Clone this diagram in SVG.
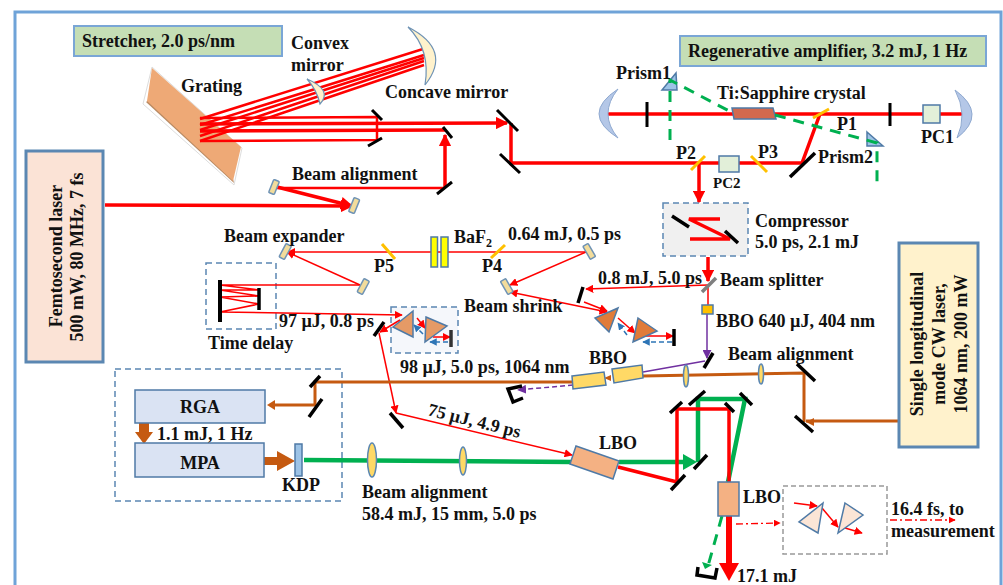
<svg xmlns="http://www.w3.org/2000/svg" width="1003" height="585" viewBox="0 0 1003 585">
<style>
text{font-family:"Liberation Serif","Times New Roman",serif;font-weight:bold;font-size:18px;fill:#111}
.box{stroke:#7aa6d6;stroke-width:2}
.dash{fill:none;stroke:#5b87b2;stroke-width:1.5;stroke-dasharray:6 4}
.m{stroke:#000;stroke-width:3.5;fill:none}
.m2{stroke:#000;stroke-width:3;fill:none}
.pol{stroke:#ffc000;stroke-width:3;fill:none}
.o{stroke:#4f7aa6;stroke-width:1.5}
.cm{fill:#f2dc9b;stroke:#6f93b5;stroke-width:1.5}
.lens{fill:#ffd966;stroke:#5b87b2;stroke-width:1.5}
.r,.r2,.r3,.rt,.b,.b2,.g,.gd,.p,.pd,.bl,.dd{fill:none}
.rt{stroke:#f00;stroke-width:1.5}
.r{stroke:#f00;stroke-width:2.5}
.r2{stroke:#f00;stroke-width:3.5}
.r3{stroke:#f00;stroke-width:6}
.b{stroke:#c55a11;stroke-width:3}
.g{stroke:#00b050;stroke-width:4.5}
.gd{stroke:#00b050;stroke-width:3;stroke-dasharray:11 8}
.p{stroke:#7030a0;stroke-width:1.5}
.pd{stroke:#7030a0;stroke-width:1.5;stroke-dasharray:5 3}
.bl{stroke:#2e75b6;stroke-width:1.5;stroke-dasharray:5 3}
.dd{stroke:#f00;stroke-width:1.3;stroke-dasharray:7 3 2 3}
</style>
<defs>
<marker id="ar" viewBox="0 0 10 10" refX="9" refY="5" markerWidth="5.5" markerHeight="5.5" orient="auto-start-reverse"><path d="M0 0L10 5L0 10z" fill="#f00"/></marker>
<marker id="arb" viewBox="0 0 10 10" refX="9" refY="5" markerWidth="3.6" markerHeight="3.6" orient="auto"><path d="M0 0L10 5L0 10z" fill="#f00"/></marker>
<marker id="abl" viewBox="0 0 10 10" refX="9" refY="5" markerWidth="5" markerHeight="5" orient="auto"><path d="M0 0L10 5L0 10z" fill="#2e75b6"/></marker>
<marker id="apu" viewBox="0 0 10 10" refX="9" refY="5" markerWidth="6" markerHeight="6" orient="auto"><path d="M0 0L10 5L0 10z" fill="#7030a0"/></marker>
</defs>
<rect width="1003" height="585" fill="#fff"/>
<rect id="frame" x="15" y="12" width="986" height="600" fill="none" stroke="#6fa3d8" stroke-width="3"/>

<g id="backgrounds">
<rect x="663" y="203" width="85" height="53" class="dash" style="fill:#f0f0f0"/>
<rect x="391" y="307" width="67" height="46" class="dash" style="fill:#f5f7fb"/>
<rect x="206" y="263" width="70" height="66" class="dash"/>
<rect x="115" y="369" width="227" height="132" class="dash"/>
<rect x="783" y="486" width="104" height="68" fill="none" stroke="#999" stroke-width="1.5" stroke-dasharray="5 3"/>
</g>

<g id="grating"><path d="M152 67L143 104L234 185L242 148z" fill="#fff" stroke="#ddd"/><path d="M146 102L234 183L233 179L149 100z" fill="#b98a62"/><path d="M152 68L241 147L233 181L147 101z" fill="#eea976"/><text x="181" y="92">Grating</text></g>

<g id="connectors">
<path class="r" d="M200 119L423 49M200 125L424 55M200 130L424 58M200 136L424 61M200 141L424 65"/>
<path class="r" d="M200 118L377 117M200 141L377 140M377 117V140"/>
<path class="r2" d="M200 131L445 130"/>
<path class="r2" d="M200 124L507 123" marker-end="url(#arb)"/>
<path class="r2" d="M445 188V135" marker-end="url(#arb)"/>
<path class="r" d="M445 188H277"/>
<path class="r2" d="M277 187L352 206" marker-end="url(#arb)"/>
<path class="r2" d="M105 205L352 206" marker-end="url(#arb)"/>
<path class="r2" d="M511 123V163H802L820 114"/>
<path class="r2" d="M608 114H963"/>
<path class="r2" d="M699 163V202" marker-end="url(#arb)"/>
<path class="r2" d="M720 219H689L730 239H690"/>
<path class="r2" d="M708 257V281" marker-end="url(#arb)"/>
<path class="rt" d="M708 285L586 289" marker-end="url(#ar)"/>
<path class="rt" d="M708 285V305"/>
<path class="p" d="M707 314V358" marker-end="url(#apu)"/>
<path class="p" d="M705 361L643 372"/>
<path class="rt" d="M589 252H288" marker-end="url(#ar)"/>
<path class="rt" d="M586 252L510 285" marker-end="url(#ar)"/>
<path class="rt" d="M360 285L287 252" marker-end="url(#ar)"/>
<path class="rt" d="M360 285H220L259 290L220 290L259 296L220 297L259 304L220 312L402 315" marker-end="url(#ar)"/>
<path class="rt" d="M607 312L510 292" marker-start="url(#ar)" marker-end="url(#ar)"/>
<path class="rt" d="M584 302L607 311" marker-end="url(#ar)"/>
<path class="rt" d="M618 318L635 333" marker-end="url(#ar)"/>
<path class="bl" d="M627 335L618 323" marker-end="url(#abl)"/>
<path class="rt" d="M643 336H673" marker-end="url(#ar)"/>
<path class="bl" d="M672 342H643" marker-end="url(#abl)"/>
<path class="rt" d="M400 320L380 332" marker-end="url(#ar)"/>
<path class="rt" d="M417 318L425 328" marker-end="url(#ar)"/>
<path class="bl" d="M423 334L414 325" marker-end="url(#abl)"/>
<path class="rt" d="M433 337H450" marker-end="url(#ar)"/>
<path class="bl" d="M448 342H430" marker-end="url(#abl)"/>
<path class="rt" d="M379 333L396 413" marker-end="url(#ar)"/>
<path class="rt" d="M396 413L572 455" marker-end="url(#ar)"/>
<path class="b" d="M899 421H806"/>
<path d="M806 422L814 418V426z" fill="#c55a11"/>
<path class="b" d="M804 422V373L643 376"/>
<path class="b" d="M572 382L315 382V405H272"/>
<path d="M267 405L275 400V410z" fill="#c55a11"/>
<path d="M604 378L611 375V381z" fill="#c55a11"/>
<path d="M139 423H149V432H153L144 444L135 432H139z" fill="#c55a11"/>
<path d="M263 457H277V451L295 461L277 471V465H263z" fill="#c55a11"/>
<path class="pd" d="M573 385L518 390" marker-end="url(#apu)"/>
<path class="g" d="M304 460L572 462"/>
<path class="g" d="M619 462H690"/>
<path d="M683 454L697 462L683 470z" fill="#00b050"/>
<path class="g" d="M698 462V399H745L728 482"/>
<path class="r2" d="M618 467L677 482V409H729V482"/>
<path class="r3" d="M729 516V566"/>
<path d="M719 563H739L729 581z" fill="#f00"/>
<path class="gd" d="M722 516L708 566"/>
<path d="M702 562L712 565L705 569z" fill="#00b050"/>
<path class="dd" d="M736 524L780 523" marker-end="url(#ar)"/>
<path class="dd" d="M890 520H955" marker-end="url(#ar)"/>
<path class="rt" d="M794 503L817 506" marker-end="url(#ar)"/>
<path class="rt" d="M822 508L838 527" marker-end="url(#ar)"/>
<path class="rt" d="M845 528L862 533" marker-end="url(#ar)"/>
</g>

<g id="stretcher-label"><rect class="box" x="74" y="26" width="208" height="30" fill="#c5deb5"/><text x="82" y="47">Stretcher, 2.0 ps/nm</text></g>
<g id="regen-label"><rect class="box" x="680" y="36" width="306" height="30" fill="#c5deb5"/><text x="688" y="57">Regenerative amplifier, 3.2 mJ, 1 Hz</text></g>
<g id="femto-laser"><rect x="26" y="151" width="77" height="211" fill="#fbe3d6" stroke="#5b87b2" stroke-width="3"/>
<text transform="translate(62 256) rotate(-90)" text-anchor="middle">Femtosecond laser</text>
<text transform="translate(83 257) rotate(-90)" text-anchor="middle">500 mW, 80 MHz, 7 fs</text></g>
<g id="cw-laser"><rect x="899" y="243" width="79" height="204" fill="#fff2cc" stroke="#5b87b2" stroke-width="3"/>
<text transform="translate(923 344) rotate(-90)" text-anchor="middle">Single longitudinal</text>
<text transform="translate(945 344) rotate(-90)" text-anchor="middle">mode CW laser,</text>
<text transform="translate(967 344) rotate(-90)" text-anchor="middle">1064 nm, 200 mW</text></g>

<g id="convex-mirror"><path d="M307 79Q333 90 320 104Q317 90 307 79z" fill="#fff2cc" stroke="#6f93b5" stroke-width="1.2"/><text x="291" y="49">Convex</text><text x="291" y="71">mirror</text></g>
<g id="concave-mirror"><path d="M408 27Q453 50 425 85Q431 50 408 27z" fill="#fff2cc" stroke="#6f93b5" stroke-width="1.2"/><text x="385" y="98">Concave mirror</text></g>
<g id="stretcher-mirrors"><path class="m2" d="M372 110L382 120M368 146L382 138M443 127L452 138M497 110L518 131M500 154L520 173M437 194L452 182"/>
<rect x="271" y="180" width="6" height="14" rx="1" class="cm" transform="rotate(22 274 187)"/>
<rect x="351" y="198" width="6" height="15" rx="1" class="cm" transform="rotate(22 354 206)"/>
<text x="292" y="180">Beam alignment</text></g>

<g id="cavity">
<path d="M618 89Q580 114 618 138Q598 114 618 89z" fill="#b4c7e7" stroke="#8fa9d0"/>
<path d="M955 90Q988 114 957 138Q968 114 955 90z" fill="#b4c7e7" stroke="#8fa9d0"/>
<path class="m2" d="M647 102V127M890 103V126"/>
<path class="o" d="M732 108H773L776 119H734z" fill="#d2694f"/>
<path class="o" d="M676 73L662 90H677z" fill="#9dc3e6"/>
<path class="o" d="M867 132L883 146H867z" fill="#9dc3e6"/>
<path class="gd" d="M670 140V80L733 113M775 115L877 143V186"/>
<rect class="o" x="923" y="105" width="17" height="18" fill="#e2efd9"/>
<rect class="o" x="719" y="156" width="20" height="16" fill="#e2efd9"/>
<path class="pol" d="M813 118L829 109M691 170L705 156M751 156L767 172"/>
<path class="m" d="M790 177L815 153"/>
<text x="616" y="79">Prism1</text><text x="717" y="99">Ti:Sapphire crystal</text><text x="837" y="130">P1</text><text x="818" y="163">Prism2</text><text x="921" y="143">PC1</text><text x="676" y="159">P2</text><text x="758" y="158">P3</text><text x="713" y="188" style="font-size:15px">PC2</text>
</g>

<g id="compressor"><path class="m" d="M672 216L689 227M725 231L738 243"/><text x="755" y="227">Compressor</text><text x="755" y="248">5.0 ps, 2.1 mJ</text></g>
<g id="beam-splitter"><path d="M702 292L716 278" stroke="#7f7f7f" stroke-width="3.5"/><text x="720" y="286">Beam splitter</text><text x="598" y="284">0.8 mJ, 5.0 ps</text></g>
<g id="bbo-small"><rect class="o" x="702" y="305" width="11" height="9" fill="#ffc000"/><text x="716" y="327">BBO 640 µJ, 404 nm</text><path class="m" d="M713 353L704 368"/></g>

<g id="expander">
<rect x="282" y="244" width="6" height="15" rx="1" class="cm" transform="rotate(28 285 252)"/>
<rect x="586" y="244" width="6" height="15" rx="1" class="cm" transform="rotate(-30 589 251)"/>
<rect x="360" y="279" width="6" height="15" rx="1" class="cm" transform="rotate(28 363 287)"/>
<rect x="504" y="279" width="6" height="15" rx="1" class="cm" transform="rotate(-30 507 287)"/>
<rect class="o" x="431" y="237" width="6.500" height="30" fill="#ff0"/><rect class="o" x="441" y="237" width="7" height="30" fill="#ff0"/>
<path class="pol" d="M382 244L395 259M491 258L505 245"/>
<text x="224" y="242">Beam expander</text><text x="374" y="272">P5</text><text x="454" y="243">BaF<tspan dy="4" font-size="12">2</tspan></text><text x="508" y="240">0.64 mJ, 0.5 ps</text><text x="482" y="272">P4</text><text x="464" y="312">Beam shrink</text>
</g>
<g id="time-delay"><path d="M220 280V322" stroke="#000" stroke-width="4"/><path d="M259 288V310" stroke="#000" stroke-width="3.500"/><text x="208" y="349">Time delay</text><text x="279" y="327">97 µJ, 0.8 ps</text></g>
<g id="prism-pair-1"><path class="o" d="M413 311L393 327L413 337z" fill="#e59a66"/><path class="o" d="M426 317L447 326L425 342z" fill="#e59a66"/><path class="m" d="M374 336L384 322"/><path d="M451 330V347" stroke="#333" stroke-width="3.500"/></g>
<g id="prism-pair-2"><path class="o" d="M618 308L595 318L609 332z" fill="#e07b39"/><path class="o" d="M638 318L657 331L633 342z" fill="#e07b39"/><path class="m" d="M583 287L578 303"/><path d="M674 329V346" stroke="#000" stroke-width="3.500"/></g>

<g id="bbo-crystals"><path class="o" d="M572 376L604 372L606 385L573 389z" fill="#ffd966"/><path class="o" d="M612 369L642 365L643 378L614 383z" fill="#ffd966"/><text x="589" y="364">BBO</text><text x="400" y="373">98 µJ, 5.0 ps, 1064 nm</text>
<path d="M522 386L508 389L513 402L523 398" fill="none" stroke="#000" stroke-width="3.500"/></g>
<g id="beam-alignment-1064"><ellipse class="lens" cx="686" cy="376" rx="2.500" ry="11"/><ellipse class="lens" cx="761" cy="374" rx="2.500" ry="10"/><path class="m" d="M797 364L815 381M795 416L813 432"/><text x="728" y="360">Beam alignment</text></g>

<g id="rga"><rect class="o" x="135" y="390" width="130" height="33" fill="#dae3f3"/><text x="200" y="413" text-anchor="middle">RGA</text></g>
<g id="mpa"><rect class="o" x="135" y="443" width="129" height="34" fill="#dae3f3"/><text x="200" y="469" text-anchor="middle">MPA</text><text x="157" y="440">1.1 mJ, 1 Hz</text></g>
<g id="kdp"><rect class="o" x="295" y="444" width="7" height="32" fill="#9dc3e6"/><text x="282" y="491">KDP</text><path class="m" d="M310 387L320 376M309 417L322 399"/></g>
<g id="beam-alignment-green"><ellipse class="lens" cx="372" cy="460" rx="4.500" ry="17"/><ellipse class="lens" cx="463" cy="461" rx="3.500" ry="14"/><path class="m" d="M390 413L403 428"/><text x="362" y="498">Beam alignment</text><text x="362" y="520">58.4 mJ, 15 mm, 5.0 ps</text><text transform="translate(427 415) rotate(14)">75 µJ, 4.9 ps</text></g>
<g id="lbo-1"><path class="o" d="M576 446L619 461L613 479L570 464z" fill="#f4b183"/><text x="599" y="449">LBO</text></g>
<g id="shg-mirrors"><path class="m" d="M670 413L682 402M689 405L705 391M725 403L734 412M740 393L752 405M694 469L707 455M671 490L685 475"/></g>
<g id="lbo-2"><rect class="o" x="718" y="482" width="21" height="34" fill="#f4b183"/><text x="743" y="503">LBO</text></g>
<g id="output"><path d="M698 567L697 575L715 578L717 568" fill="none" stroke="#000" stroke-width="3.500"/><text x="737" y="582">17.1 mJ</text></g>
<g id="prism-pair-3"><path class="o" d="M823 503L799 522L818 533z" fill="#fbe5d6"/><path class="o" d="M845 503L863 515L838 533z" fill="#fbe5d6"/><text x="891" y="515">16.4 fs, to</text><text x="891" y="537">measurement</text></g>
</svg>
